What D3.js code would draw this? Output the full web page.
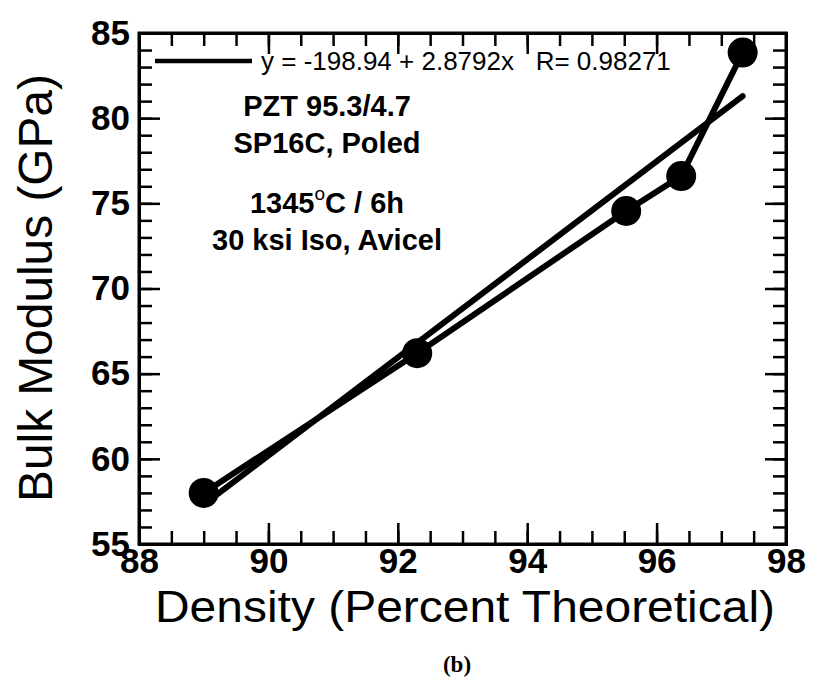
<!DOCTYPE html>
<html>
<head>
<meta charset="utf-8">
<script src="https://cdn.jsdelivr.net/npm/d3@7"></script>
<style>
  body { margin: 0; background: #fff; }
  .tick text { font-family: "Liberation Sans", Arial, sans-serif; font-weight: bold; }
</style>
</head>
<body>
<div id="chart"></div>
<script>
// data
const density = [89.0, 92.3, 95.53, 96.38, 97.33];
const bulkModulus = [58.0, 66.2, 74.55, 76.6, 83.85];
const fitIntercept = -198.94;
const fitSlope = 2.8792;
const xTicks = [88, 90, 92, 94, 96, 98];
const yTicks = [55, 60, 65, 70, 75, 80, 85];
const noteLines = ["PZT 95.3/4.7", "SP16C, Poled"];

const W = 815, H = 687;
const margin = {top: 33, right: 29, bottom: 143, left: 139};
const width = W - margin.left - margin.right;
const height = H - margin.top - margin.bottom;

const svg = d3.select("#chart").append("svg")
    .attr("width", W)
    .attr("height", H);

const g = svg.append("g")
    .attr("transform", "translate(" + margin.left + "," + margin.top + ")");

const x = d3.scaleLinear().domain([88, 98]).range([0, width]);
const y = d3.scaleLinear().domain([55, 85]).range([height, 0]);

const xMinor = d3.range(88, 98.01, 0.5);
const yMinor = d3.range(55, 85.01, 1);

// minor ticks on all four sides, pointing in
function minorAxis(axis, vals, tr) {
    g.append("g")
        .attr("transform", tr)
        .call(axis.tickValues(vals).tickSize(-13).tickFormat(""))
        .call(s => s.select(".domain").remove())
        .call(s => s.selectAll("line").attr("stroke-width", 2.5));
}
minorAxis(d3.axisBottom(x), xMinor, "translate(0," + height + ")");
minorAxis(d3.axisTop(x), xMinor, "translate(0,0)");
minorAxis(d3.axisLeft(y), yMinor, "translate(0,0)");
minorAxis(d3.axisRight(y), yMinor, "translate(" + width + ",0)");

// major ticks
function majorAxis(axis, vals, tr, labels) {
    const a = g.append("g")
        .attr("transform", tr)
        .call(axis.tickValues(vals).tickSize(-21).tickPadding(labels ? 8 : 0)
            .tickFormat(labels ? d3.format("d") : ""));
    a.select(".domain").attr("stroke-width", 3);
    a.selectAll("line").attr("stroke-width", 2.5);
    a.selectAll("text").attr("font-size", 35).attr("fill", "#000");
    return a;
}
const xa = majorAxis(d3.axisBottom(x), xTicks, "translate(0," + height + ")", true);
xa.selectAll("text").attr("dy", "0.6em");
majorAxis(d3.axisTop(x), xTicks, "translate(0,0)", false);
const ya = majorAxis(d3.axisLeft(y), yTicks, "translate(0,0)", true);
ya.selectAll("text").attr("dx", "-1px");
majorAxis(d3.axisRight(y), yTicks, "translate(" + width + ",0)", false);

// outer frame
g.append("rect")
    .attr("width", width).attr("height", height)
    .attr("fill", "none").attr("stroke", "#000").attr("stroke-width", 3);

// regression line
const xExt = d3.extent(density);
g.append("line")
    .attr("x1", x(xExt[0])).attr("y1", y(fitIntercept + fitSlope * xExt[0]))
    .attr("x2", x(xExt[1])).attr("y2", y(fitIntercept + fitSlope * xExt[1]))
    .attr("stroke", "#000").attr("stroke-width", 6).attr("stroke-linecap", "round");

// data line + markers
const pts = density.map((d, i) => ({x: d, y: bulkModulus[i]}));
g.append("path")
    .datum(pts)
    .attr("fill", "none").attr("stroke", "#000").attr("stroke-width", 6)
    .attr("d", d3.line().x(d => x(d.x)).y(d => y(d.y)));
g.selectAll("circle.pt")
    .data(pts).enter().append("circle")
    .attr("class", "pt")
    .attr("cx", d => x(d.x)).attr("cy", d => y(d.y))
    .attr("r", 15).attr("fill", "#000");

const font = "Liberation Sans, Arial, sans-serif";

// legend
g.append("line")
    .attr("x1", 16).attr("x2", 113).attr("y1", 28).attr("y2", 28)
    .attr("stroke", "#000").attr("stroke-width", 4.5);
g.append("text")
    .attr("x", 122).attr("y", 37)
    .attr("font-family", font)
    .attr("font-size", 26)
    .attr("xml:space", "preserve")
    .text("y = -198.94 + 2.8792x   R= 0.98271");

// notes
const noteX = 188;
noteLines.forEach((t, i) => {
    g.append("text")
        .attr("x", noteX).attr("y", 83 + i * 37)
        .attr("text-anchor", "middle")
        .attr("font-family", font).attr("font-weight", "bold").attr("font-size", 29)
        .text(t);
});
const t3 = g.append("text")
    .attr("x", noteX).attr("y", 180)
    .attr("text-anchor", "middle")
    .attr("font-family", font).attr("font-weight", "bold").attr("font-size", 29);
t3.append("tspan").text("1345");
t3.append("tspan").attr("dy", -13).attr("font-size", 19).attr("font-weight", "normal").text("o");
t3.append("tspan").attr("dy", 13).text("C / 6h");
g.append("text")
    .attr("x", noteX).attr("y", 217)
    .attr("text-anchor", "middle")
    .attr("font-family", font).attr("font-weight", "bold").attr("font-size", 29)
    .text("30 ksi Iso, Avicel");

// axis titles
svg.append("text")
    .attr("x", 155).attr("y", 622)
    .attr("font-family", font).attr("font-size", 45)
    .attr("textLength", 620).attr("lengthAdjust", "spacingAndGlyphs")
    .text("Density (Percent Theoretical)");
svg.append("text")
    .attr("transform", "translate(52,502) rotate(-90)")
    .attr("font-family", font).attr("font-size", 48)
    .attr("textLength", 428).attr("lengthAdjust", "spacingAndGlyphs")
    .text("Bulk Modulus (GPa)");

// caption
svg.append("text")
    .attr("x", 457).attr("y", 672)
    .attr("text-anchor", "middle")
    .attr("font-family", "Liberation Serif, Times New Roman, serif")
    .attr("font-weight", "bold").attr("font-size", 23)
    .text("(b)");
</script>
</body>
</html>
